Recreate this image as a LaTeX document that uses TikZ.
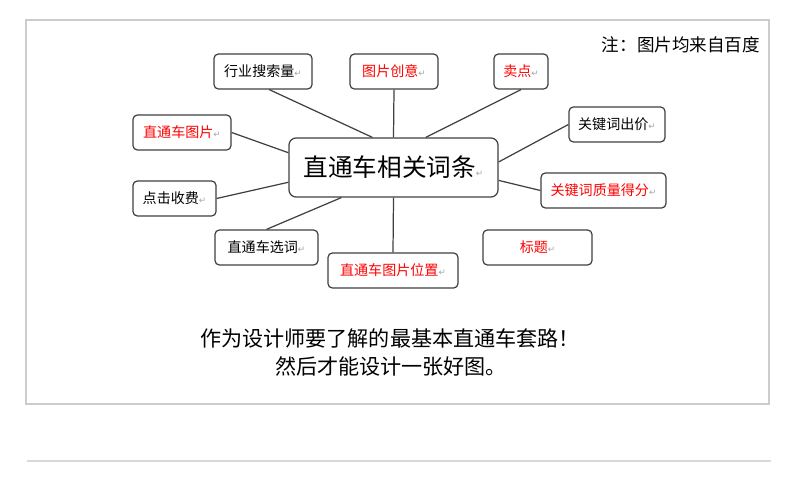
\documentclass[tikz,border=0pt]{standalone}
\usepackage{fontspec}
\setmainfont{Noto Sans CJK SC}
\newfontfamily\symfont{DejaVu Sans}
\usepackage{xcolor}
\usepackage{tikz}
\usetikzlibrary{shapes,arrows,positioning,fit,backgrounds}

% 段落标记
\newcommand{\pmark}{{\symfont\fontsize{5}{5}\selectfont\color{gray!70}↵}}

\begin{document}
\begin{tikzpicture}[
    keyword/.style={rectangle, draw=black!75, line width=0.7pt, rounded corners=2.5pt, fill=white, minimum height=0.70cm, inner sep=0pt, text centered, font=\fontsize{8}{9}\selectfont},
    redword/.style={keyword, text=red},
    hub/.style={keyword, minimum width=4.18cm, minimum height=1.18cm, rounded corners=4pt, font=\fontsize{14}{16}\selectfont},
    link/.style={black!75, line width=0.7pt}
]
\useasboundingbox (0,0) rectangle (16,9.62);

% 外框与分隔线
\node[draw=gray!40, line width=1.4pt, minimum width=14.86cm, minimum height=7.68cm, inner sep=0pt] (frame) at (7.95,5.38) {};
\coordinate (sepL) at (0.54,0.40);
\coordinate (sepR) at (15.42,0.40);
\draw[gray!30, line width=0.6pt] (sepL) -- (sepR);

% 中心节点
\node[hub] (main) at (7.87,6.27) {直通车相关词条\pmark};

% 上方关键词
\node[keyword, minimum width=1.96cm] (search) at (5.26,8.19) {行业搜索量\pmark};
\node[redword, minimum width=1.76cm] (creative) at (7.88,8.19) {图片创意\pmark};
\node[redword, minimum width=1.08cm] (selling) at (10.42,8.19) {卖点\pmark};

% 左侧关键词
\node[redword, minimum width=1.96cm] (carpic) at (3.64,6.97) {直通车图片\pmark};
\node[keyword, minimum width=1.66cm] (charge) at (3.49,5.65) {点击收费\pmark};
\node[keyword, minimum width=2.06cm] (select) at (5.33,4.67) {直通车选词\pmark};

% 右侧关键词
\node[keyword, minimum width=1.92cm] (bid) at (12.34,7.13) {关键词出价\pmark};
\node[redword, minimum width=2.50cm] (quality) at (12.07,5.81) {关键词质量得分\pmark};
\node[redword, minimum width=2.18cm] (title) at (10.75,4.67) {标题\pmark};

% 下方关键词
\node[redword, minimum width=2.60cm] (position) at (7.86,4.21) {直通车图片位置\pmark};

% 注释与说明文字
\node[font=\fontsize{10}{12}\selectfont] (note) at (13.62,8.72) {注：图片均来自百度};
\node[font=\fontsize{12}{14}\selectfont] (line1) at (7.80,2.86) {作为设计师要了解的最基本直通车套路！};
\node[font=\fontsize{12}{14}\selectfont] (line2) at (7.82,2.30) {然后才能设计一张好图。};

% 连接线
\draw[link] (search.-71) -- (main.125);
\draw[link] (creative.south) -- (main.north);
\draw[link] (selling.south) -- (main.43);
\draw[link] (bid.west) -- (main.3);
\draw[link] (carpic.east) -- (main.172);
\draw[link] (charge.east) -- (main.-172);
\draw[link] (quality.west) -- (main.-7);
\draw[link] (select.north) -- (main.-150);
\draw[link] (position.north) -- (main.south);

\end{tikzpicture}
\end{document}
